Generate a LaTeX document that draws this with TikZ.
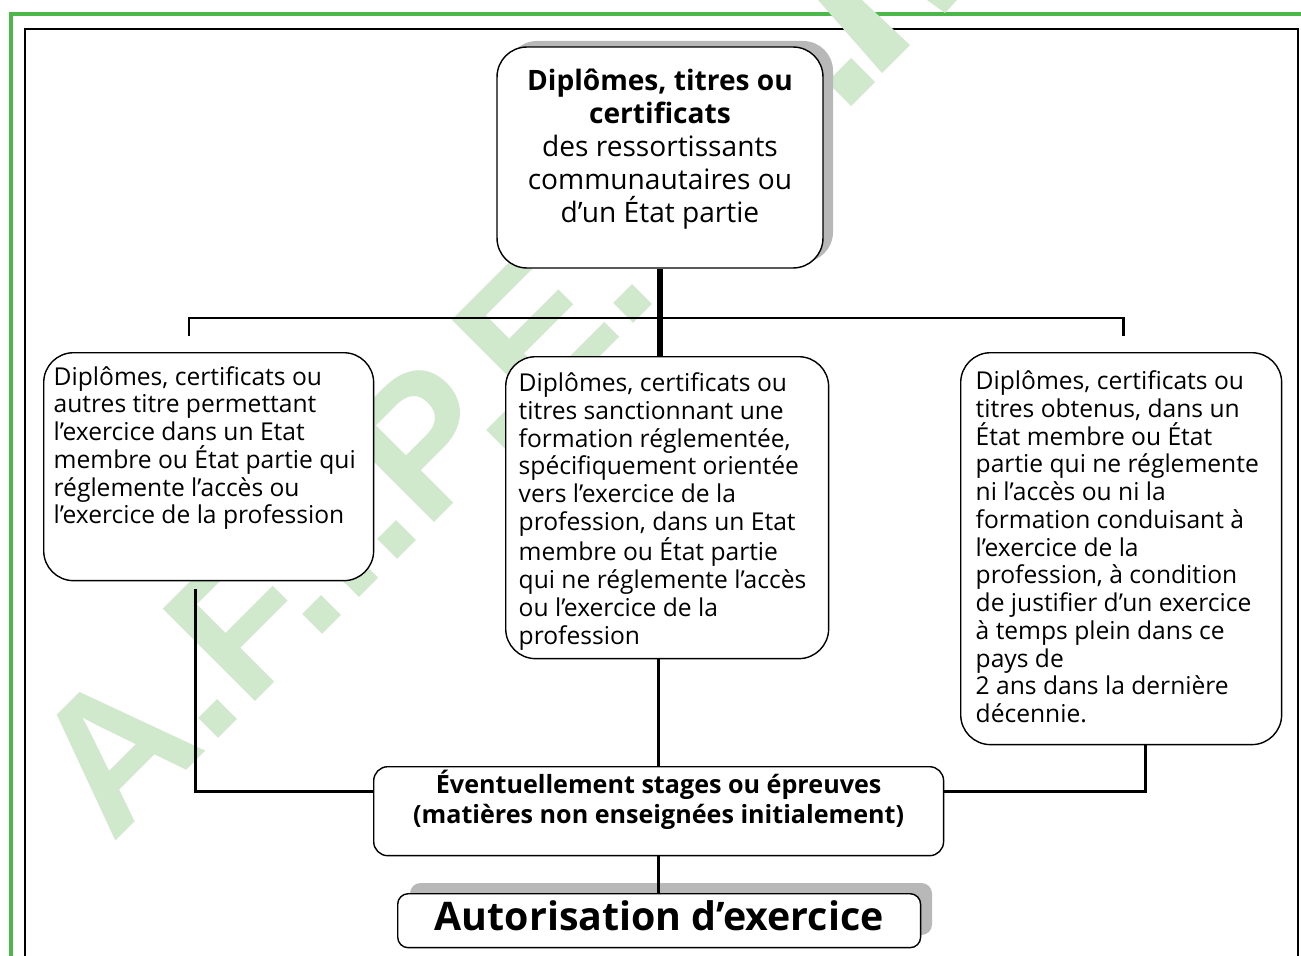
\documentclass[tikz,border=0pt]{standalone}
\usepackage{fontspec}
\setmainfont{Open Sans}
\newfontfamily\markfont{Liberation Sans}
\usetikzlibrary{positioning}
\definecolor{framegreen}{RGB}{76,184,76}
\definecolor{markgreen}{RGB}{208,232,204}
\definecolor{shadowgray}{RGB}{184,184,184}

\begin{document}
\begin{tikzpicture}[x=0.02cm,y=-0.02cm,
    box/.style={draw, fill=white, line width=0.8pt, rounded corners=17pt},
    link/.style={line width=1.7pt},
    trunk/.style={line width=2.9pt},
    small/.style={font=\fontsize{14}{15.8}\selectfont}]
    \useasboundingbox (0,0) rectangle (1301,956);
    %frames
    \draw[framegreen, line width=2pt] (11,956) -- (11,14) -- (1301,14);
    \draw[line width=0.9pt] (25,956) -- (25,29) -- (1298,29) -- (1298,956);
    %watermark
    \node[markgreen, rotate=45, anchor=base west, inner sep=0pt,
        font=\markfont\fontsize{108}{108}\selectfont\bfseries] (filigrane) at (112,845) {A.F.I.P.E.};
    \fill[markgreen] (827,82) -- (851,58) -- (875,82) -- (851,106) -- cycle;
    \fill[markgreen] (818,0) -- (862,0) -- (910,45) -- (882,73) -- cycle;
    \fill[markgreen] (927,0) -- (957,0) -- (945,13) -- cycle;

    %top
    \fill[shadowgray, rounded corners=17pt] (507,41) rectangle (833,262);
    \node[box, minimum width=6.52cm, minimum height=4.42cm, align=center,
        font=\fontsize{16}{18.8}\selectfont] (titres) at (660,157.5)
        {\textbf{Diplômes, titres ou}\\ \textbf{certificats}\\ des ressortissants\\
        communautaires ou\\ d’un État partie\\[-0.2cm]};

    %three cases
    \node[box, small, anchor=north west, inner xsep=0.2cm, inner ysep=0.27cm] (gauche) at (43,352)
        {\parbox[c][4.02cm][t]{6.2cm}{\raggedright
        Diplômes, certificats ou\\ autres titre permettant\\ l’exercice dans un Etat\\
        membre ou État partie qui\\ réglemente l’accès ou\\ l’exercice de la profession}};
    \node[box, small, anchor=north west, inner xsep=0.26cm, inner ysep=0.32cm] (milieu) at (505,356)
        {\parbox[c][5.4cm][t]{5.94cm}{\raggedright
        Diplômes, certificats ou\\ titres sanctionnant une\\ formation réglementée,\\
        spécifiquement orientée\\ vers l’exercice de la\\ profession, dans un Etat\\
        membre ou État partie\\ qui ne réglemente l’accès\\ ou l’exercice de la\\ profession}};
    \node[box, small, anchor=north west, inner xsep=0.3cm, inner ysep=0.36cm] (droite) at (960,352)
        {\parbox[c][7.12cm][t]{5.82cm}{\raggedright
        Diplômes, certificats ou\\ titres obtenus, dans un\\ État membre ou État\\
        partie qui ne réglemente\\ ni l’accès ou ni la\\ formation conduisant à\\
        l’exercice de la\\ profession, à condition\\ de justifier d’un exercice\\
        à temps plein dans ce\\ pays de\\ 2 ans dans la dernière\\ décennie.}};

    %bottom
    \node[box, rounded corners=8pt, anchor=north west, inner sep=0pt,
        font=\fontsize{14.3}{17}\selectfont\bfseries] (stages) at (373,766)
        {\parbox[c][1.78cm][c]{11.4cm}{\centering
        Éventuellement stages ou épreuves\\ (matières non enseignées initialement)\\[0.45cm]}};
    \fill[shadowgray, rounded corners=6pt] (410,883) rectangle (932,935);
    \node[box, rounded corners=6pt, anchor=north west, inner sep=0pt, minimum width=10.46cm,
        minimum height=1.08cm, font=\fontsize{22.4}{26}\selectfont\bfseries] (autor) at (397,893)
        {Autorisation d’exercice\vphantom{p}};

    %connectors
    \draw[trunk] (titres.south) -- (titres.south |- milieu.north);
    \draw[link] (189,336) -- (189,318) -- (1123,318) -- (1123,336);
    \draw[link] ([xshift=-0.26cm, yshift=-0.16cm]gauche.south) |- ([yshift=0.39cm]stages.west);
    \draw[link] ([xshift=0.49cm]droite.south) |- ([yshift=0.39cm]stages.east);
    \draw[link] (milieu.south -| stages.north) -- (stages.north);
    \draw[link] (stages.south) -- (stages.south |- autor.north);
\end{tikzpicture}
\end{document}
